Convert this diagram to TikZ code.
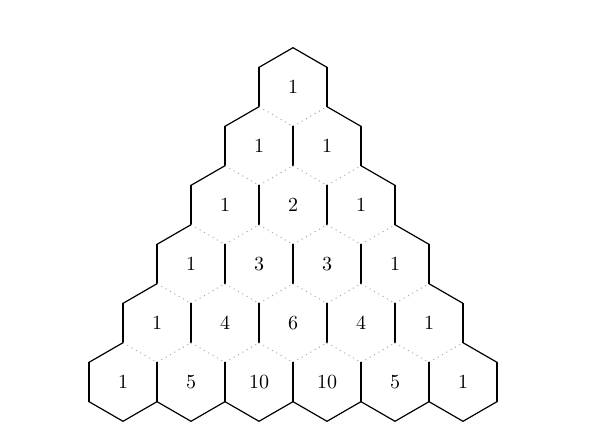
\documentclass[tikz,border=0pt]{standalone}
\usetikzlibrary{calc}
\tikzset{
  outer/.style={draw=black,line width=0.6pt,line cap=round},
  inner/.style={draw=gray!70,dotted,line width=0.5pt},
  num/.style={font=\normalsize}
}
\begin{document}
\begin{tikzpicture}[x=0.5pt,y=-0.5pt]
\useasboundingbox (0,0) rectangle (598,437);
\def\hw{34}
\def\hr{39.3}
% one hexagon per entry of the triangle
\foreach \r/\vals in {0/{1},1/{1,1},2/{1,2,1},3/{1,3,3,1},4/{1,4,6,4,1},5/{1,5,10,10,5,1}} {
  \foreach \v [count=\k from 0] in \vals {
    \pgfmathsetmacro\cx{293+(\k-\r/2)*68}
    \pgfmathsetmacro\cy{87+\r*59}
    \node[num] (n\r-\k) at (\cx,\cy) {\v};
    \coordinate (top) at ($(n\r-\k.center)+(0,-\hr)$);
    \coordinate (bot) at ($(n\r-\k.center)+(0,\hr)$);
    \coordinate (ul) at ($(n\r-\k.center)+(-\hw,-\hr/2)$);
    \coordinate (ur) at ($(n\r-\k.center)+(\hw,-\hr/2)$);
    \coordinate (ll) at ($(n\r-\k.center)+(-\hw,\hr/2)$);
    \coordinate (lr) at ($(n\r-\k.center)+(\hw,\hr/2)$);
    \ifnum\k=0 \def\lsty{outer}\else\def\lsty{inner}\fi
    \ifnum\k<\r \def\rsty{inner}\else\def\rsty{outer}\fi
    \draw[\lsty] (ul) -- (top);
    \draw[\rsty] (top) -- (ur);
    \draw[outer] (ul) -- (ll);
    \draw[outer] (ur) -- (lr);
    \ifnum\r=5 \draw[outer] (ll) -- (bot) -- (lr);\fi
  }
}
\end{tikzpicture}
\end{document}
